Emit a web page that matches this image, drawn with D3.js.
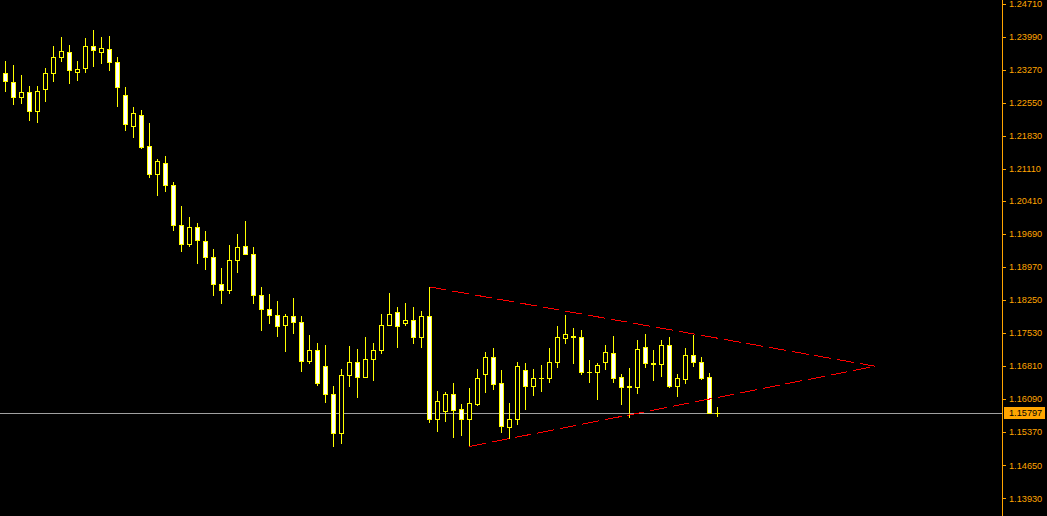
<!DOCTYPE html>
<html><head><meta charset="utf-8">
<script src="https://cdn.jsdelivr.net/npm/d3@7"></script>
<style>html,body{margin:0;padding:0;background:#000;overflow:hidden}</style>
</head><body>
<svg id="chart" width="1047" height="516"></svg>
<script>
// ---- data ----
const barIndex = d3.range(90);
const openPrices = [
1.2320,1.2300,1.2269,1.2279,1.2238,1.2285,1.2320,1.2355,1.2366,1.2323,
1.2332,1.2379,1.2367,1.2372,1.2344,1.2273,1.2206,1.2230,1.2161,1.2101,
1.2124,1.2076,1.1988,1.1947,1.1984,1.1954,1.1919,1.1860,1.1847,1.1912,
1.1943,1.1925,1.1836,1.1805,1.1792,1.1770,1.1790,1.1777,1.1692,1.1716,
1.1681,1.1620,1.1535,1.1661,1.1690,1.1657,1.1696,1.1716,1.1772,1.1799,
1.1775,1.1781,1.1744,1.1790,1.1565,1.1584,1.1620,1.1587,1.1567,1.1599,
1.1663,1.1701,1.1644,1.1549,1.1565,1.1672,1.1637,1.1655,1.1655,1.1690,
1.1742,1.1748,1.1744,1.1668,1.1668,1.1690,1.1709,1.1657,1.1637,1.1636,
1.1722,1.1689,1.1685,1.1727,1.1639,1.1654,1.1705,1.1690,1.1657,1.1580];
const highPrices = [
1.2347,1.2338,1.2316,1.2292,1.2292,1.2331,1.2379,1.2400,1.2382,1.2347,
1.2396,1.2414,1.2398,1.2401,1.2355,1.2291,1.2246,1.2240,1.2212,1.2133,
1.2140,1.2082,1.2030,1.2006,1.1993,1.1976,1.1937,1.1895,1.1945,1.1969,
1.1998,1.1940,1.1854,1.1839,1.1823,1.1794,1.1830,1.1790,1.1749,1.1731,
1.1727,1.1638,1.1674,1.1725,1.1718,1.1745,1.1731,1.1794,1.1841,1.1810,
1.1820,1.1810,1.1801,1.1854,1.1627,1.1624,1.1644,1.1598,1.1634,1.1675,
1.1712,1.1721,1.1673,1.1601,1.1690,1.1688,1.1675,1.1683,1.1720,1.1768,
1.1793,1.1764,1.1760,1.1695,1.1688,1.1727,1.1747,1.1664,1.1677,1.1738,
1.1751,1.1716,1.1738,1.1745,1.1664,1.1721,1.1749,1.1701,1.1666,1.1592];
const lowPrices = [
1.2282,1.2253,1.2256,1.2218,1.2214,1.2260,1.2303,1.2347,1.2299,1.2305,
1.2323,1.2336,1.2342,1.2327,1.2249,1.2196,1.2182,1.2158,1.2094,1.2054,
1.2064,1.1979,1.1933,1.1944,1.1907,1.1894,1.1836,1.1820,1.1840,1.1887,
1.1925,1.1820,1.1761,1.1776,1.1748,1.1715,1.1754,1.1671,1.1687,1.1641,
1.1604,1.1506,1.1514,1.1639,1.1615,1.1657,1.1652,1.1709,1.1772,1.1724,
1.1770,1.1732,1.1724,1.1560,1.1540,1.1562,1.1527,1.1530,1.1506,1.1597,
1.1625,1.1632,1.1538,1.1525,1.1556,1.1588,1.1619,1.1627,1.1647,1.1680,
1.1732,1.1689,1.1663,1.1647,1.1610,1.1676,1.1647,1.1599,1.1571,1.1623,
1.1680,1.1652,1.1660,1.1636,1.1617,1.1645,1.1682,1.1654,1.1578,1.1572];
const closePrices = [
1.2302,1.2269,1.2279,1.2238,1.2281,1.2320,1.2355,1.2368,1.2326,1.2329,
1.2379,1.2370,1.2374,1.2345,1.2289,1.2209,1.2233,1.2160,1.2101,1.2129,
1.2076,1.1988,1.1947,1.1984,1.1957,1.1919,1.1860,1.1847,1.1912,1.1940,
1.1925,1.1836,1.1805,1.1792,1.1768,1.1790,1.1777,1.1692,1.1716,1.1644,
1.1620,1.1535,1.1661,1.1690,1.1657,1.1696,1.1716,1.1772,1.1796,1.1768,
1.1781,1.1744,1.1790,1.1565,1.1605,1.1620,1.1586,1.1567,1.1600,1.1655,
1.1701,1.1643,1.1551,1.1565,1.1681,1.1637,1.1655,1.1655,1.1690,1.1744,
1.1751,1.1744,1.1669,1.1668,1.1683,1.1711,1.1656,1.1635,1.1635,1.1718,
1.1687,1.1685,1.1727,1.1639,1.1655,1.1705,1.1690,1.1656,1.1580,1.15797];
const yTickValues = [1.24710,1.23990,1.23270,1.22550,1.21830,1.21110,1.20410,1.19690,1.18970,1.18250,1.17530,1.16810,1.16090,1.15370,1.14650,1.13930];
const yTickLabels = ["1.24710","1.23990","1.23270","1.22550","1.21830","1.21110","1.20410","1.19690","1.18970","1.18250","1.17530","1.16810","1.16090","1.15370","1.14650","1.13930"];
const currentPrice = 1.15797;
const currentPriceLabel = "1.15797";
const trendUpper = [{bar:53, price:1.1854},{bar:108.7, price:1.1681}];
const trendLower = [{bar:58, price:1.1506},{bar:108.7, price:1.1681}];

// ---- layout ----
const W = 1047, H = 516, plotRight = 1002.5;
const svg = d3.select("#chart");
svg.append("rect").attr("width",W).attr("height",H).attr("fill","#000");

const x = d3.scaleLinear().domain([0,89]).range([5.5, 5.5 + 8*89]);
const y = d3.scaleLinear().domain([1.13930,1.24710]).range([498.3,4]);
const yr = v => Math.round(y(v)) + 0.5;

const candles = barIndex.map(i => ({i, o:openPrices[i], h:highPrices[i], l:lowPrices[i], c:closePrices[i]}));

// current price line (behind candles)
svg.append("line").attr("x1",0).attr("x2",plotRight).attr("y1",yr(currentPrice)).attr("y2",yr(currentPrice))
  .attr("stroke","#a0a0a0").attr("stroke-width",1);

const g = svg.append("g").attr("shape-rendering","crispEdges");
g.selectAll("line.wick").data(candles).join("line").attr("class","wick")
  .attr("x1",d=>x(d.i)).attr("x2",d=>x(d.i))
  .attr("y1",d=>Math.round(y(d.h))).attr("y2",d=>Math.round(y(d.l))+1)
  .attr("stroke","#ffff00").attr("stroke-width",1);
g.selectAll("rect.body").data(candles).join("rect").attr("class","body")
  .attr("x",d=>x(d.i)-2).attr("width",4)
  .attr("y",d=>yr(Math.max(d.o,d.c)))
  .attr("height",d=>Math.max(yr(Math.min(d.o,d.c))-yr(Math.max(d.o,d.c)),0.01))
  .attr("fill",d=>d.c>d.o?"#000":"#fff")
  .attr("stroke","#ffff00").attr("stroke-width",1);

// trend lines
const line = d3.line().x(d=>x(d.bar)).y(d=>y(d.price));
[trendUpper,trendLower].forEach(t=>{
  svg.append("path").attr("d",line(t)).attr("fill","none").attr("stroke","#ff0000")
    .attr("stroke-width",1).attr("stroke-dasharray","17,6").attr("shape-rendering","crispEdges");
});

// axis
const axisG = svg.append("g").attr("shape-rendering","crispEdges");
axisG.append("line").attr("x1",plotRight).attr("x2",plotRight).attr("y1",0).attr("y2",H)
  .attr("stroke","#ffa500").attr("stroke-width",1);
yTickValues.forEach((v,k)=>{
  axisG.append("line").attr("x1",plotRight).attr("x2",plotRight+3).attr("y1",yr(v)).attr("y2",yr(v))
    .attr("stroke","#ffa500");
  svg.append("text").attr("x",1009).attr("y",y(v)).attr("dy","0.35em")
    .attr("fill","#ffa500").attr("font-family","Liberation Sans, Arial, sans-serif").attr("font-size","9.2px")
    .text(yTickLabels[k]);
});
// current price label
const cy = y(currentPrice);
svg.append("rect").attr("x",1004).attr("y",Math.round(cy)-6).attr("width",41).attr("height",12).attr("fill","#ffa500");
svg.append("text").attr("x",1009).attr("y",cy).attr("dy","0.35em")
  .attr("fill","#000").attr("font-family","Liberation Sans, Arial, sans-serif").attr("font-size","9.2px")
  .text(currentPriceLabel);
</script>
</body></html>
